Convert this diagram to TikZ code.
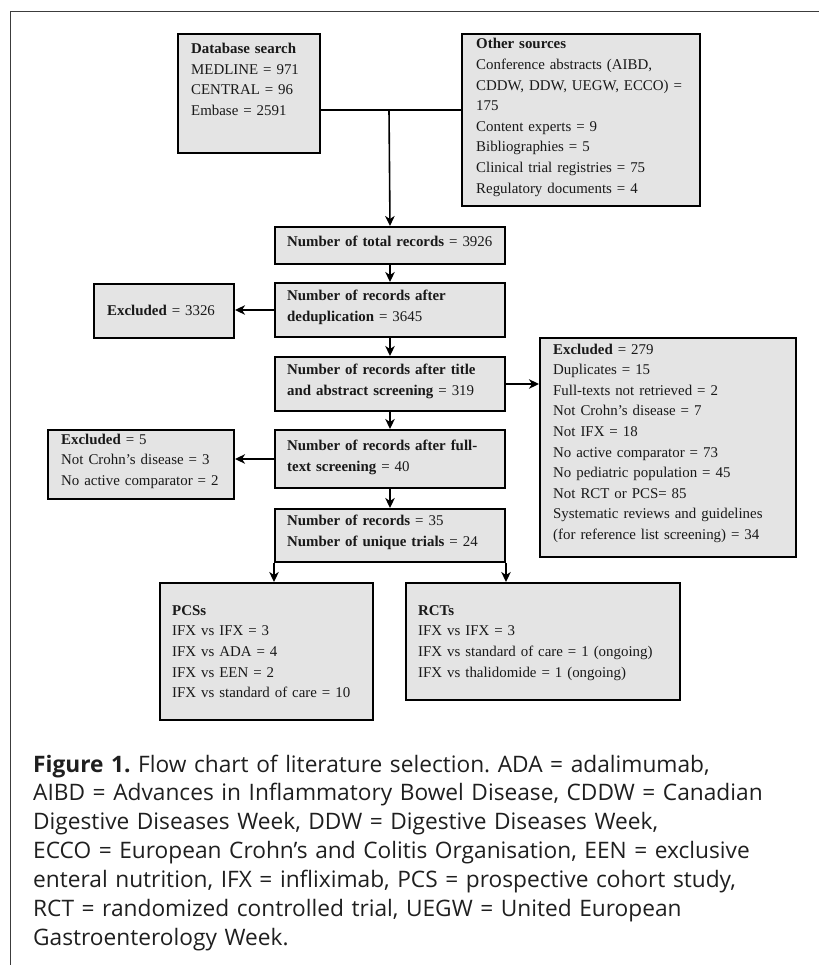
\documentclass[tikz,border=0pt]{standalone}
\usepackage{fontspec}
\setmainfont{Liberation Serif}
\newfontfamily\capfont{Open Sans}
\usetikzlibrary{arrows.meta}
\frenchspacing
\definecolor{boxfill}{RGB}{228,228,228}
\definecolor{framecol}{RGB}{60,60,60}
\tikzset{
  box/.style={draw=black, line width=2pt, fill=boxfill, inner sep=0pt, anchor=north west},
  boxtext/.style={anchor=base west, inner sep=0pt, text width=260pt, align=left,
    font=\fontsize{14.9}{20.6}\selectfont, text=black!90},
  conn/.style={line width=1.6pt, draw=black},
  arr/.style={conn, -{Stealth[length=10pt, width=9.5pt, inset=3pt]}},
  captext/.style={anchor=base west, inner sep=0pt, text width=800pt, align=left,
    font=\capfont\fontsize{22.7}{28.9}\selectfont, text=black!88},
}
\begin{document}
\begin{tikzpicture}[x=1pt, y=-1pt]
\useasboundingbox (0,0) rectangle (819,965);
% outer frame (top and left only)
\draw[framecol, line width=1.3pt] (10.5,965) -- (10.5,11.5) -- (819,11.5);

% boxes
\node[box, minimum width=142pt, minimum height=119pt] (db) at (177,33) {};
\node[box, minimum width=238pt, minimum height=172pt] (oth) at (461,33) {};
\node[box, minimum width=230pt, minimum height=37pt] (tot) at (274,226) {};
\node[box, minimum width=230pt, minimum height=54pt] (dedup) at (274,282) {};
\node[box, minimum width=140pt, minimum height=54pt] (exa) at (93,283) {};
\node[box, minimum width=230pt, minimum height=54pt] (title) at (274,356) {};
\node[box, minimum width=256pt, minimum height=219pt] (exb) at (539,337) {};
\node[box, minimum width=230pt, minimum height=58pt] (full) at (274,429) {};
\node[box, minimum width=186pt, minimum height=69pt] (exc) at (47,429) {};
\node[box, minimum width=230pt, minimum height=53pt] (rec) at (274,508) {};
\node[box, minimum width=213pt, minimum height=137pt] (pcs) at (159,582) {};
\node[box, minimum width=274pt, minimum height=117pt] (rct) at (405,582) {};

% texts
\node[boxtext] (dbt) at (191,53.7) {\textbf{Database search}\\MEDLINE = 971\\CENTRAL = 96\\Embase = 2591};
\node[boxtext] (otht) at (476,49) {\textbf{Other sources}\\Conference abstracts (AIBD,\\CDDW, DDW, UEGW, ECCO) =\\175\\Content experts = 9\\Bibliographies = 5\\Clinical trial registries = 75\\Regulatory documents = 4};
\node[boxtext] (tott) at (287,246.3) {\textbf{Number of total records} = 3926};
\node[boxtext] (dedupt) at (287,300.7) {\textbf{Number of records after}\\\textbf{deduplication} = 3645};
\node[boxtext] (exat) at (107,315.7) {\textbf{Excluded} = 3326};
\node[boxtext] (titlet) at (287,374.7) {\textbf{Number of records after title}\\\textbf{and abstract screening} = 319};
\node[boxtext] (exbt) at (553,354) {\textbf{Excluded} = 279\\Duplicates = 15\\Full-texts not retrieved = 2\\Not Crohn’s disease = 7\\Not IFX = 18\\No active comparator = 73\\No pediatric population = 45\\Not RCT or PCS= 85\\Systematic reviews and guidelines\\(for reference list screening) = 34};
\node[boxtext] (fullt) at (287,450.7) {\textbf{Number of records after full-}\\\textbf{text screening} = 40};
\node[boxtext] (exct) at (61,444) {\textbf{Excluded} = 5\\Not Crohn’s disease = 3\\No active comparator = 2};
\node[boxtext] (rect) at (287,525.7) {\textbf{Number of records} = 35\\\textbf{Number of unique trials} = 24};
\node[boxtext] (pcst) at (172,615.3) {\textbf{PCSs}\\IFX vs IFX = 3\\IFX vs ADA = 4\\IFX vs EEN = 2\\IFX vs standard of care = 10};
\node[boxtext] (rctt) at (418,615.3) {\textbf{RCTs}\\IFX vs IFX = 3\\IFX vs standard of care = 1 (ongoing)\\IFX vs thalidomide = 1 (ongoing)};

% connectors
\coordinate (j) at (389,110);
\draw[conn] (db.east |- j) -- (oth.west |- j);
\draw[arr] (j) -- (tot.north);
\draw[arr] (tot.south) -- (dedup.north);
\draw[arr] (dedup.west) -- (dedup.west -| exa.east);
\draw[arr] (dedup.south) -- (title.north);
\draw[arr] (title.east) -- (title.east -| exb.west);
\draw[arr] (title.south) -- (full.north);
\draw[arr] (full.west) -- (full.west -| exc.east);
\draw[arr] (full.south) -- (rec.north);
\draw[arr] (rec.south west) -- (rec.south west |- pcs.north);
\draw[arr] (rec.south east) -- (rec.south east |- rct.north);

% caption
\node[captext] (cap) at (33,772) {\textbf{Figure 1.} Flow chart of literature selection. ADA = adalimumab,\\AIBD = Advances in Inflammatory Bowel Disease, CDDW = Canadian\\Digestive Diseases Week, DDW = Digestive Diseases Week,\\ECCO = European Crohn’s and Colitis Organisation, EEN = exclusive\\enteral nutrition, IFX = infliximab, PCS = prospective cohort study,\\RCT = randomized controlled trial, UEGW = United European\\Gastroenterology Week.};
\end{tikzpicture}
\end{document}
